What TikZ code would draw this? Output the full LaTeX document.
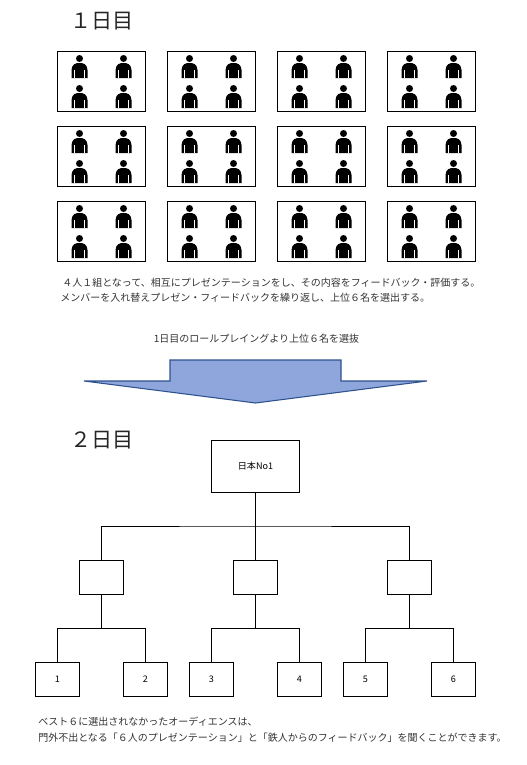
\documentclass[tikz,border=0pt]{standalone}
\usepackage{fontspec}
\setmainfont{Noto Sans CJK JP}
\usetikzlibrary{positioning}
\definecolor{arrowfill}{HTML}{8EA6DC}
\definecolor{arrowline}{HTML}{2F528F}
\tikzset{groupbox/.style={draw, line width=0.7pt, minimum width=66pt, minimum height=45pt, inner sep=0pt},
rootbox/.style={draw, line width=0.7pt, font=\fontsize{6.8}{8}\selectfont, minimum width=66pt, minimum height=38.5pt, inner sep=0pt},
midbox/.style={draw, line width=0.7pt, minimum width=33pt, minimum height=25.5pt, inner sep=0pt},
leafbox/.style={midbox, font=\fontsize{6.8}{8}\selectfont},
wire/.style={line width=0.7pt},
heading/.style={font=\fontsize{15.8}{18}\selectfont, anchor=west, inner sep=0pt, text=black!85},
note/.style={font=\fontsize{7.5}{13}\selectfont, anchor=west, inner sep=0pt, text=black!80, align=left},
person/.pic={
  \fill (0,-8.5) circle (3.5);
  \fill (-8,11) -- (-8,3) .. controls (-7.5,-3) and (-4,-4) .. (0,-4) .. controls (4,-4) and (7.5,-3) .. (8,3) -- (8,11) -- cycle;
  \draw[white, line width=0.3pt] (-5,3) -- (-5,11) (5,3) -- (5,11);
}}

\begin{document}
\begin{tikzpicture}[x=0.75pt, y=-0.75pt]
  \useasboundingbox (0,0) rectangle (527,765);
  % 1日目
  \node[heading] (day1) at (70,21) {１日目};
  \foreach \row/\ypos in {1/81.5, 2/156.5, 3/231.5} {
    \foreach \col/\xpos in {1/101.5, 2/211.5, 3/321.5, 4/431.5} {
      \node[groupbox] (g\row\col) at (\xpos,\ypos) {};
      \foreach \dx in {-22, 22} {
        \pic at ([shift={(\dx,-14.5)}]g\row\col.center) {person};
        \pic at ([shift={(\dx,15.5)}]g\row\col.center) {person};
      }
    }
  }
  \node[note] (memo1) at (62,283) {４人１組となって、相互にプレゼンテーションをし、その内容をフィードバック・評価する。};
  \node[note] (memo2) at (60,298) {メンバーを入れ替えプレゼン・フィードバックを繰り返し、上位６名を選出する。};
  \node[note, anchor=center] (memo3) at (256.5,338.5) {1日目のロールプレイングより上位６名を選抜};
  % 矢印
  \draw[fill=arrowfill, draw=arrowline, line width=0.8pt, line join=miter] (170,360) -- (341,360) -- (341,381) -- (427,381) -- (255.5,403) -- (84,381) -- (170,381) -- cycle;
  % 2日目
  \node[heading] (day2) at (70,440) {２日目};
  \node[rootbox] (root) at (255.5,466.5) {日本No1};
  \node[midbox] (m1) at (101.5,577) {};
  \node[midbox] (m2) at (255.5,577) {};
  \node[midbox] (m3) at (409.5,577) {};
  \node[leafbox] (p1) at (57.5,679) {1};
  \node[leafbox] (p2) at (145.5,679) {2};
  \node[leafbox] (p3) at (211.5,679) {3};
  \node[leafbox] (p4) at (299.5,679) {4};
  \node[leafbox] (p5) at (365.5,679) {5};
  \node[leafbox] (p6) at (453.5,679) {6};
  \coordinate (bus) at (255.5,526);
  \draw[wire] (root.south) -- (m2.north);
  \draw[wire] (m1.north) |- (bus) -| (m3.north);
  \foreach \parent/\pa/\pb in {m1/p1/p2, m2/p3/p4, m3/p5/p6} {
    \coordinate (c\parent) at ([yshift=-25.5pt]\parent.south);
    \draw[wire] (\parent.south) -- (c\parent);
    \draw[wire] (\pa.north) |- (c\parent) -| (\pb.north);
  }
  \node[note] (memo4) at (38,722) {ベスト６に選出されなかったオーディエンスは、};
  \node[note] (memo5) at (38,738) {門外不出となる「６人のプレゼンテーション」と「鉄人からのフィードバック」を聞くことができます。};
\end{tikzpicture}
\end{document}
